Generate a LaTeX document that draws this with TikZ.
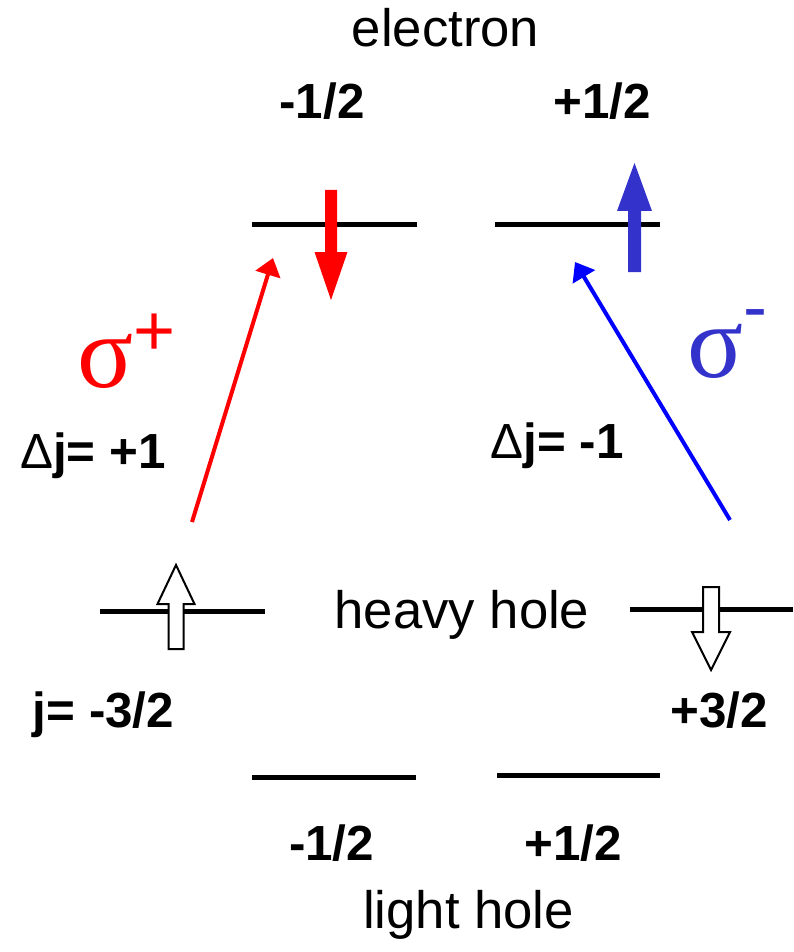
\documentclass[tikz,border=0pt]{standalone}
\usepackage{fontspec}
\setmainfont{Liberation Sans}
\newfontfamily\sigfont{Liberation Serif}
\usetikzlibrary{arrows.meta,positioning}
\definecolor{sigred}{HTML}{FF0000}
\definecolor{sigblue}{HTML}{0000FF}
\definecolor{spinblue}{HTML}{3333CC}
\tikzset{
  level/.style={line width=3.75pt},
  bandname/.style={anchor=base, inner sep=0pt, font=\fontsize{39.5}{44}\selectfont},
  qnum/.style={anchor=base, inner sep=0pt, font=\bfseries\fontsize{37}{42}\selectfont},
  trans/.style={line width=3pt, -{Triangle[length=13pt,width=19pt]}},
  spinhollow/.style={draw=black, line width=1.5pt, fill=white, line join=miter},
  sigmalab/.style={anchor=base west, inner sep=0pt, font=\sigfont\fontsize{78}{80}\selectfont},
}
\begin{document}
\begin{tikzpicture}[x=0.75pt, y=-0.75pt]
  \useasboundingbox (0,0) rectangle (793,952);
  % band names
  \node[bandname] (el) at (445.5,47) {electron};
  \node[bandname] (hh) at (462,628) {heavy hole};
  \node[bandname] (lh) at (468.5,928) {light hole};
  % levels
  \draw[level] (252,225) -- (417,225);
  \draw[level] (495,225) -- (660,225);
  \draw[level] (100,611) -- (265,611);
  \draw[level] (630,609) -- (793,609);
  \draw[level] (252,777) -- (416,777);
  \draw[level] (497,775) -- (660,775);
  % quantum numbers
  \node[qnum] (eL) at (322,119) {-1/2};
  \node[qnum] (eR) at (602,119) {+1/2};
  \node[qnum] (hL) at (103.5,727) {j= -3/2};
  \node[qnum] (hR) at (719,727) {+3/2};
  \node[qnum] (lL) at (331.5,860) {-1/2};
  \node[qnum] (lR) at (573,860) {+1/2};
  \node[qnum] (dL) at (93,468) {{\mdseries Δ}j= +1};
  \node[qnum] (dR) at (557,458) {{\mdseries Δ}j= -1};
  % spins
  \fill[sigred] (325,190) -- (337,190) -- (337,252) -- (347.5,252) -- (331,300)
    -- (314.5,252) -- (325,252) -- cycle;
  \fill[spinblue] (628,272) -- (641,272) -- (641,211) -- (652,211) -- (634.5,163)
    -- (617,211) -- (628,211) -- cycle;
  \draw[spinhollow] (168.5,649) -- (183.5,649) -- (183.5,604) -- (194.5,604) -- (176,565)
    -- (157.5,604) -- (168.5,604) -- cycle;
  \draw[spinhollow] (703,587) -- (719,587) -- (719,632) -- (730,632) -- (711,670)
    -- (692,632) -- (703,632) -- cycle;
  % transitions
  \coordinate (hhL) at (192,522);
  \coordinate (ceL) at (273,258);
  \coordinate (hhR) at (730,520);
  \coordinate (ceR) at (575,262);
  \draw[trans, sigred] (hhL) -- (ceL);
  \draw[trans, sigblue] (hhR) -- (ceR);
  % polarisations
  \node[sigmalab, text=sigred] (sp) at (77,387)
    {σ\raisebox{23.6pt}{\fontsize{54}{54}\selectfont\rmfamily +}};
  \node[sigmalab, text=spinblue] (sm) at (687,377)
    {σ\raisebox{34pt}{\fontsize{54}{54}\selectfont\rmfamily -}};
\end{tikzpicture}
\end{document}
